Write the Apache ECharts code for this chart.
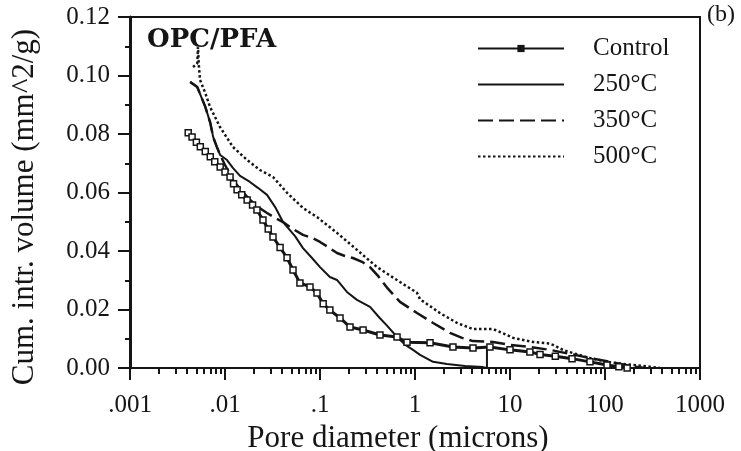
<!DOCTYPE html>
<html>
<head>
<meta charset="utf-8">
<script src="https://cdn.jsdelivr.net/npm/echarts@6/dist/echarts.min.js"></script>
<style>
html,body{margin:0;padding:0;background:#fff;}
#chart{width:741px;height:451px;}
</style>
</head>
<body>
<div id="chart"></div>
<script>
// ---- data (pore diameter in microns, cumulative intrusion volume) ----
const seriesNames = ['Control', '250°C', '350°C', '500°C'];
const xTickLabels = ['.001', '.01', '.1', '1', '10', '100', '1000'];
const xMinorTicks = [
  0.002,0.003,0.004,0.005,0.006,0.007,0.008,0.009,
  0.02,0.03,0.04,0.05,0.06,0.07,0.08,0.09,
  0.2,0.3,0.4,0.5,0.6,0.7,0.8,0.9,
  2,3,4,5,6,7,8,9,
  20,30,40,50,60,70,80,90,
  200,300,400,500,600,700,800,900
];

const control = [
  [0.0041,0.0804],[0.0045,0.0790],[0.0050,0.0772],[0.0055,0.0756],[0.0062,0.0740],
  [0.0070,0.0722],[0.0078,0.0705],[0.0089,0.0687],[0.0100,0.0670],[0.0113,0.0653],
  [0.0123,0.0630],[0.0134,0.0609],[0.0150,0.0592],[0.0171,0.0574],[0.0195,0.0557],
  [0.0217,0.0540],[0.0251,0.0506],[0.0285,0.0475],[0.0320,0.0448],[0.0380,0.0412],
  [0.0450,0.0377],[0.0520,0.0335],[0.0615,0.0291],[0.0785,0.0277],[0.0930,0.0256],
  [0.108,0.0220],[0.127,0.0198],[0.1625,0.0171],[0.207,0.0140],[0.284,0.0130],
  [0.428,0.0113],[0.647,0.0106],[0.824,0.0088],[1.44,0.0086],[2.51,0.0072],
  [4.08,0.0068],[6.15,0.0072],[10,0.0062],[16.2,0.0055],[20.7,0.0046],
  [30,0.0040],[45,0.0032],[69.5,0.0021],[105,0.0010],[140,0.0004],[171,0]
];

const t250 = [
  [0.0043,0.0978],[0.0051,0.0961],[0.0062,0.0893],[0.0070,0.0838],[0.0075,0.0790],
  [0.0082,0.0756],[0.0089,0.0728],[0.0105,0.0711],[0.0121,0.0684],[0.0144,0.0657],
  [0.0183,0.0636],[0.0222,0.0616],[0.0277,0.0592],[0.0336,0.0551],[0.0408,0.0499],
  [0.0546,0.0451],[0.0662,0.0410],[0.0824,0.0376],[0.100,0.0345],[0.127,0.0311],
  [0.151,0.0301],[0.192,0.0260],[0.245,0.0233],[0.336,0.0209],[0.428,0.0170],
  [0.507,0.0145],[0.647,0.0106],[0.785,0.0080],[0.953,0.0062],[1.13,0.0045],
  [1.55,0.0021],[2.17,0.0014],[3.36,0.0007],[5.2,0.0003],[5.72,0],[5.72,0.0075]
];

const t350 = [
  [0.0043,0.0978],[0.0051,0.0961],[0.0062,0.0893],[0.0070,0.0838],[0.0075,0.0790],
  [0.0082,0.0756],[0.0089,0.0728],[0.0100,0.0694],[0.0121,0.0643],[0.0151,0.0605],
  [0.0183,0.0575],[0.0222,0.0551],[0.0277,0.0530],[0.0336,0.0513],[0.0408,0.0499],
  [0.052,0.0475],[0.0662,0.0455],[0.0824,0.0445],[0.100,0.0431],[0.121,0.0414],
  [0.151,0.0393],[0.183,0.0383],[0.222,0.0376],[0.277,0.0363],[0.336,0.0345],
  [0.408,0.0315],[0.507,0.0275],[0.615,0.0245],[0.695,0.0226],[1.05,0.0188],
  [1.55,0.0154],[2.33,0.0120],[3.13,0.0103],[4.08,0.0092],[6.62,0.0089],
  [10,0.0079],[16.2,0.0072],[26.4,0.0062],[42.8,0.0048],[69.5,0.0034],
  [113,0.0021],[183,0.0007],[264,0]
];

const t500 = [
  [0.0046,0.1029],[0.0051,0.1040],[0.0052,0.1097],[0.0053,0.1036],[0.00546,0.0985],
  [0.0062,0.0940],[0.00695,0.0893],[0.00885,0.0824],[0.0121,0.0756],[0.0171,0.0711],
  [0.0233,0.0677],[0.032,0.0653],[0.045,0.0599],[0.0662,0.0547],[0.093,0.0516],
  [0.151,0.0462],[0.245,0.0404],[0.398,0.0345],[0.695,0.0294],[1.05,0.0257],
  [1.13,0.0235],[1.83,0.0188],[2.77,0.0154],[4.08,0.0133],[6.62,0.0133],
  [7.85,0.0123],[10.8,0.0103],[17.5,0.0089],[24.5,0.0085],[28.4,0.0079],
  [36.1,0.0062],[46,0.0051],[69.5,0.0034],[105,0.0021],[155,0.0014],
  [251,0.0007],[379,0]
];

// ---- chart ----
const INK = '#151515';
const SERIF = '"Liberation Serif", "Times New Roman", serif';
const chart = echarts.init(document.getElementById('chart'), null, {renderer: 'canvas'});

function xLabel(v) {
  const idx = Math.round(Math.log10(v)) + 3;
  return xTickLabels[idx] !== undefined ? xTickLabels[idx] : '';
}

const hiddenSymbol = {opacity: 0};

const option = {
  backgroundColor: '#ffffff',
  animation: false,
  title: {
    text: 'OPC/PFA',
    left: 147, top: 27, padding: 0,
    textStyle: {fontFamily: '"DejaVu Serif", serif', fontWeight: 'bold', fontSize: 26, color: INK}
  },
  grid: {
    left: 130, right: 41, top: 17, bottom: 83,
    outerBoundsMode: 'none', containLabel: false,
    show: true, borderColor: INK, borderWidth: 2, backgroundColor: 'transparent'
  },
  legend: {
    data: [
      {name: seriesNames[0], itemStyle: {color: INK, borderColor: INK, borderWidth: 0}},
      {name: seriesNames[1], itemStyle: hiddenSymbol},
      {name: seriesNames[2], itemStyle: hiddenSymbol},
      {name: seriesNames[3], itemStyle: hiddenSymbol}
    ],
    orient: 'vertical',
    left: 477, top: 36, padding: 0,
    itemWidth: 86, itemHeight: 9, itemGap: 11,
    textStyle: {fontFamily: SERIF, fontSize: 25, color: INK, padding: [0, 0, 0, 24]},
    inactiveColor: '#ccc'
  },
  xAxis: [
    {
      type: 'log', logBase: 10, min: 0.001, max: 1000,
      name: 'Pore diameter (microns)', nameLocation: 'middle', nameGap: 46,
      nameTextStyle: {fontFamily: SERIF, fontSize: 31, color: INK, padding: [0, 34, 0, 0]},
      axisLine: {show: true, lineStyle: {color: INK, width: 2}},
      axisTick: {show: true, inside: false, length: 12, lineStyle: {color: INK, width: 2}},
      axisLabel: {fontFamily: SERIF, fontSize: 25, color: INK, margin: 25, formatter: xLabel},
      splitLine: {show: false},
      minorTick: {show: false}
    },
    {
      type: 'log', logBase: 10, min: 0.001, max: 1000, position: 'bottom', offset: 0,
      axisLine: {show: false},
      axisTick: {show: true, inside: false, length: 6, customValues: xMinorTicks, lineStyle: {color: INK, width: 2}},
      axisLabel: {show: false},
      splitLine: {show: false},
      minorTick: {show: false}
    }
  ],
  yAxis: {
    type: 'value', min: 0, max: 0.12, interval: 0.02,
    axisLine: {show: true, lineStyle: {color: INK, width: 3}},
    axisTick: {show: true, inside: false, length: 12, lineStyle: {color: INK, width: 2}},
    minorTick: {show: true, splitNumber: 2, length: 5, lineStyle: {color: INK, width: 2}},
    axisLabel: {fontFamily: SERIF, fontSize: 25, color: INK, margin: 20, formatter: v => v.toFixed(2)},
    splitLine: {show: false}
  },
  graphic: [
    {type: 'text', x: 25, y: 207, rotation: Math.PI / 2,
     style: {text: 'Cum. intr. volume (mm^2/g)', font: '31px ' + SERIF, fill: INK, align: 'center', verticalAlign: 'middle'}},
    {type: 'text', x: 707, y: 3,
     style: {text: '(b)', font: '24px ' + SERIF, fill: INK, align: 'left', verticalAlign: 'top'}}
  ],
  series: [
    {
      name: 'Control', type: 'line', data: control, z: 5,
      symbol: 'rect', symbolSize: 6, showAllSymbol: true,
      lineStyle: {color: INK, width: 3},
      itemStyle: {color: '#ffffff', borderColor: INK, borderWidth: 1.5}
    },
    {
      name: '250°C', type: 'line', data: t250, z: 3, symbol: 'none',
      lineStyle: {color: INK, width: 2}, itemStyle: {color: INK}
    },
    {
      name: '350°C', type: 'line', data: t350, z: 4, symbol: 'none',
      lineStyle: {color: INK, width: 2.5, type: [15, 6]}, itemStyle: {color: INK}
    },
    {
      name: '500°C', type: 'line', data: t500, z: 4, symbol: 'none',
      lineStyle: {color: INK, width: 2.5, type: [2.5, 2.5]}, itemStyle: {color: INK}
    }
  ]
};
chart.setOption(option);
</script>
</body>
</html>
